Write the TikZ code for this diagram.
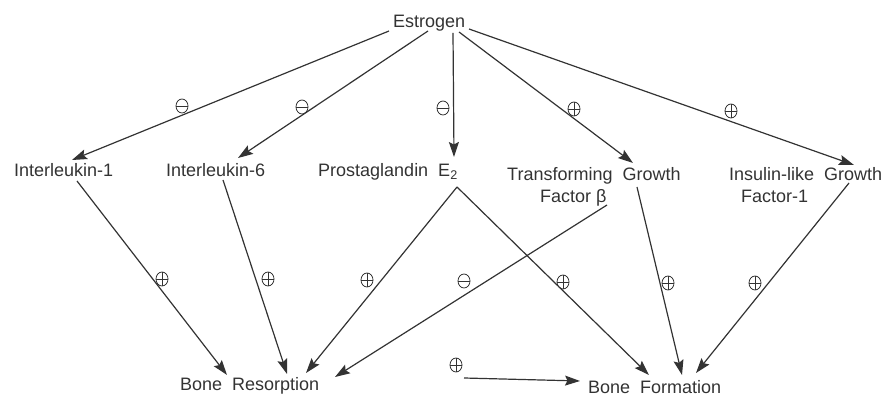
\documentclass[tikz,border=0pt]{standalone}
\usepackage{fontspec}
\setmainfont{Liberation Sans}
\usetikzlibrary{arrows.meta,shapes.geometric}
\definecolor{ink}{HTML}{333333}
\newcommand{\lblfont}{\fontsize{18}{22}\selectfont}
\newcommand{\widesp}{\spaceskip=10pt\relax}
\begin{document}
\begin{tikzpicture}[x=1pt,y=1pt,
  lbl/.style={anchor=base west,inner sep=0pt,text=ink,font=\lblfont,
    execute at begin node=\widesp},
  arr/.style={draw=ink,line width=1.2pt,-{Stealth[length=15pt,width=10pt,inset=2.5pt]}},
  sgn/.style={draw=ink,ellipse,line width=0.8pt,minimum width=12pt,minimum height=14pt,inner sep=0pt},
  posmark/.style={sgn,path picture={
     \draw[ink,line width=0.8pt] (path picture bounding box.north) -- (path picture bounding box.south);
     \draw[ink,line width=0.8pt] (path picture bounding box.west) -- (path picture bounding box.east);}},
  negmark/.style={sgn,path picture={
     \draw[ink,line width=0.8pt] (path picture bounding box.west) -- (path picture bounding box.east);}}
]
\useasboundingbox (0,0) rectangle (888,396);

% text nodes
\node[lbl] (est) at (393,368.5) {Estrogen};
\node[lbl] (il1) at (14,219) {Interleukin-1};
\node[lbl] (il6) at (166,219) {Interleukin-6};
\node[lbl] (pge) at (318,219) {Prostaglandin E\textsubscript{2}};
\node[lbl] (tgf) at (507,215) {Transforming Growth};
\node[lbl] (tgfb) at (540,193) {Factor\hspace{5pt}β};
\node[lbl] (igf) at (729,215) {Insulin-like Growth};
\node[lbl] (igfb) at (741,193) {Factor-1};
\node[lbl] (br) at (180,6) {Bone Resorption};
\node[lbl] (bf) at (588,3) {Bone Formation};

% connector end points
\coordinate (e1) at (389,365);
\coordinate (e2) at (428,365);
\coordinate (e3) at (453,363);
\coordinate (e4) at (459,364);
\coordinate (e5) at (469,367);
\coordinate (il1t) at (72,236);
\coordinate (il6t) at (238,238);
\coordinate (pget) at (454,239);
\coordinate (tgft) at (633,233);
\coordinate (igft) at (854,231);

\coordinate (il1b) at (77,215);
\coordinate (il6b) at (223,216);
\coordinate (pgeb) at (457,209);
\coordinate (tgfbb) at (607,191);
\coordinate (tgfgb) at (637,209);
\coordinate (igfgb) at (849,213);

\coordinate (br1) at (227,21);
\coordinate (br2) at (287,22);
\coordinate (br3) at (306,23);
\coordinate (br4) at (335,19);
\coordinate (bf1) at (649,21);
\coordinate (bf2) at (682,21);
\coordinate (bf3) at (696,23);
\coordinate (bf0) at (580,15);
\coordinate (p0) at (464,18);

% estrogen arrows
\draw[arr] (e1) -- (il1t);
\draw[arr] (e2) -- (il6t);
\draw[arr] (e3) -- (pget);
\draw[arr] (e4) -- (tgft);
\draw[arr] (e5) -- (igft);

% lower arrows
\draw[arr] (il1b) -- (br1);
\draw[arr] (il6b) -- (br2);
\draw[arr] (pgeb) -- (br3);
\draw[arr] (pgeb) -- (bf1);
\draw[arr] (tgfbb) -- (br4);
\draw[arr] (tgfgb) -- (bf2);
\draw[arr] (igfgb) -- (bf3);
\draw[arr] (p0) -- (bf0);

% signs
\node[negmark] (s1) at (182,290) {};
\node[negmark] (s2) at (302,289) {};
\node[negmark] (s3) at (443,288) {};
\node[posmark] (s4) at (574,287) {};
\node[posmark] (s5) at (731,285) {};

\node[posmark] (s6) at (162,117) {};
\node[posmark] (s7) at (268,117) {};
\node[posmark] (s8) at (367,116) {};
\node[negmark] (s9) at (464,115) {};
\node[posmark] (s10) at (563,114) {};
\node[posmark] (s11) at (668,113) {};
\node[posmark] (s12) at (755,113) {};

\node[posmark] (s13) at (456,31) {};
\end{tikzpicture}
\end{document}
